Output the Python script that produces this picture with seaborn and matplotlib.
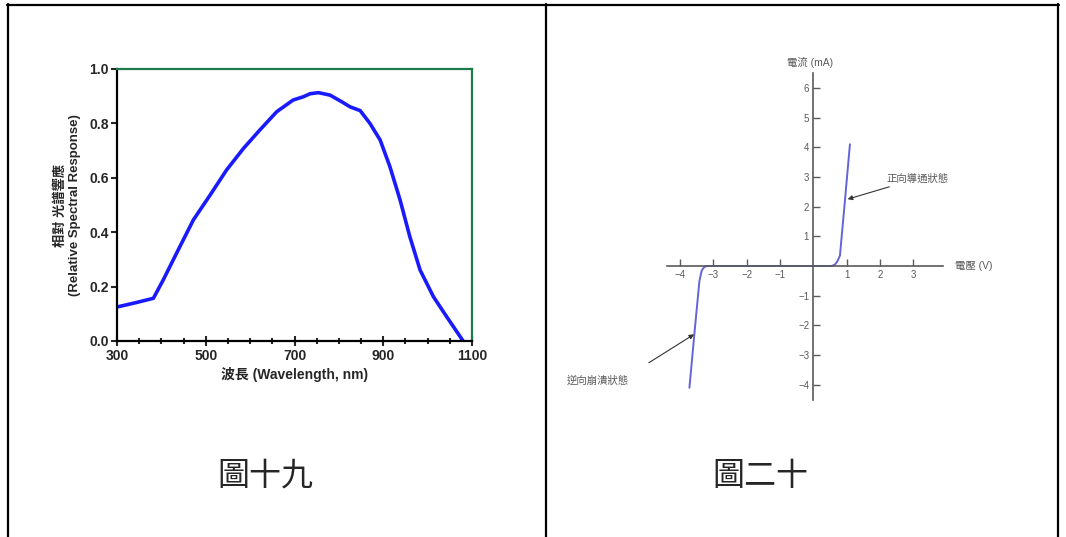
import matplotlib
matplotlib.use("Agg")
import matplotlib.pyplot as plt
from matplotlib.lines import Line2D
from matplotlib.ticker import MultipleLocator
import seaborn as sns

# spectral response (left)
wavelength = [300, 340, 382, 404, 434, 472, 510, 547, 585, 622, 660, 697, 720,
              735, 754, 780, 806, 825, 848, 870, 893, 915, 938, 960, 983, 1013,
              1043, 1080]
response = [0.125, 0.14, 0.157, 0.224, 0.322, 0.445, 0.537, 0.629, 0.708, 0.776,
            0.843, 0.886, 0.898, 0.909, 0.913, 0.904, 0.880, 0.861, 0.847, 0.80,
            0.739, 0.641, 0.518, 0.383, 0.261, 0.163, 0.089, 0.0]

# diode I-V curve (right)
voltage = [-3.72, -3.57, -3.42, -3.35, -3.28, -3.2, -3.1, 0.0, 0.55, 0.65,
           0.72, 0.8, 0.95, 1.1]
current = [-4.1, -2.27, -0.5, -0.15, -0.04, 0.0, 0.0, 0.0, 0.0, 0.05,
           0.15, 0.35, 2.2, 4.1]
v_ticks = [-4, -3, -2, -1, 1, 2, 3]
i_ticks = [-4, -3, -2, -1, 1, 2, 3, 4, 5, 6]

captions = ["圖十九", "圖二十"]

sns.set_style("white")
plt.rcParams['font.family'] = ['Liberation Sans', 'Noto Sans CJK TC', 'DejaVu Sans']

W, H = 1066, 537
fig = plt.figure(figsize=(W / 100, H / 100), dpi=100)


def box(x0, y0, x1, y1):
    # pixel box (from top-left) -> figure rect
    return [x0 / W, 1 - y1 / H, (x1 - x0) / W, (y1 - y0) / H]


# table borders
lw = 1.6
for x in [8, 546, 1058]:
    fig.add_artist(Line2D([x / W, x / W], [0, 1 - 4 / H], color="black", lw=lw))
fig.add_artist(Line2D([7 / W, 1059 / W], [1 - 5 / H, 1 - 5 / H], color="black", lw=lw))

# ---- left chart
ax1 = fig.add_axes(box(117, 69, 472, 341))
sns.lineplot(x=wavelength, y=response, ax=ax1, color="#1a1aff", lw=2.6)
ax1.set_xlim(300, 1100)
ax1.set_ylim(0, 1.0)
ax1.set_xticks([300, 500, 700, 900, 1100])
ax1.xaxis.set_minor_locator(MultipleLocator(50))
ax1.set_yticks([0.0, 0.2, 0.4, 0.6, 0.8, 1.0])
ax1.set_yticklabels(["0.0", "0.2", "0.4", "0.6", "0.8", "1.0"])
for s in ["left", "bottom"]:
    ax1.spines[s].set_color("black")
    ax1.spines[s].set_linewidth(1.6)
for s in ["top", "right"]:
    ax1.spines[s].set_color("#1d7a4a")
    ax1.spines[s].set_linewidth(1.6)
ax1.tick_params(axis="x", which="major", direction="inout", length=7, width=1.5,
                labelsize=10, pad=2, bottom=True)
ax1.tick_params(axis="x", which="minor", direction="inout", length=5, width=1.5, bottom=True)
ax1.tick_params(axis="y", which="major", direction="out", length=4, width=1.5,
                labelsize=10, pad=2, left=True)
for lab in ax1.get_xticklabels() + ax1.get_yticklabels():
    lab.set_fontweight("bold")
ax1.set_xlabel("波長 (Wavelength, nm)", fontsize=10, fontweight="bold", labelpad=3)
ax1.set_ylabel("相對 光譜響應\n(Relative Spectral Response)", fontsize=9.5,
               fontweight="bold", labelpad=6, linespacing=1.25)

# ---- right chart
x0p, y0p = 813.3, 266.0
sx, sy = 33.3, 29.7
px0, px1, py0, py1 = 560, 1040, 50, 410
ax2 = fig.add_axes(box(px0, py0, px1, py1))
ax2.patch.set_alpha(0)
sns.lineplot(x=voltage, y=current, ax=ax2, sort=False, color="#6464d8", lw=1.4)
ax2.set_xlim((px0 - x0p) / sx, (px1 - x0p) / sx)
ax2.set_ylim((y0p - py1) / sy, (y0p - py0) / sy)
gray = "#5a5a5a"
for s in ["top", "right"]:
    ax2.spines[s].set_visible(False)
ax2.spines["left"].set_position(("data", 0))
ax2.spines["bottom"].set_position(("data", 0))
ax2.spines["left"].set_bounds(-4.5, 6.5)
ax2.spines["bottom"].set_bounds(-4.4, 3.9)
for s in ["left", "bottom"]:
    ax2.spines[s].set_color(gray)
    ax2.spines[s].set_linewidth(1.2)
ax2.set_xticks(v_ticks)
ax2.set_yticks(i_ticks)
ax2.tick_params(axis="x", direction="in", length=5, width=1, colors=gray,
                labelsize=7, pad=3, bottom=True)
ax2.tick_params(axis="y", direction="in", length=5, width=1, colors=gray,
                labelsize=7, pad=3, left=True)
ax2.text(-0.1, 6.85, "電流 (mA)", fontsize=7.5, color=gray, ha="center", va="center")
ax2.text(4.25, 0, "電壓 (V)", fontsize=7.5, color=gray, ha="left", va="center")
ax2.annotate("正向導通狀態", xy=(1.03, 2.25), xytext=(2.2, 2.95), fontsize=7.5,
             color=gray, va="center", annotation_clip=False,
             arrowprops=dict(arrowstyle="-|>", color="#333333", lw=0.8,
                             mutation_scale=7, shrinkA=0, shrinkB=0))
ax2.annotate("逆向崩潰狀態", xy=(-3.58, -2.3), xytext=(-7.4, -3.85), fontsize=7.5,
             color=gray, va="center", annotation_clip=False,
             arrowprops=dict(arrowstyle="-|>", color="#333333", lw=0.8,
                             mutation_scale=7, shrinkA=14, shrinkB=0,
                             relpos=(1, 1)))

# captions
fig.text(265 / W, 1 - 476 / H, captions[0], fontsize=23, ha="center", va="center",
         family=["Noto Sans CJK TC"], fontweight="light")
fig.text(760 / W, 1 - 476 / H, captions[1], fontsize=23, ha="center", va="center",
         family=["Noto Sans CJK TC"], fontweight="light")

fig.savefig("out.png", dpi=100)
